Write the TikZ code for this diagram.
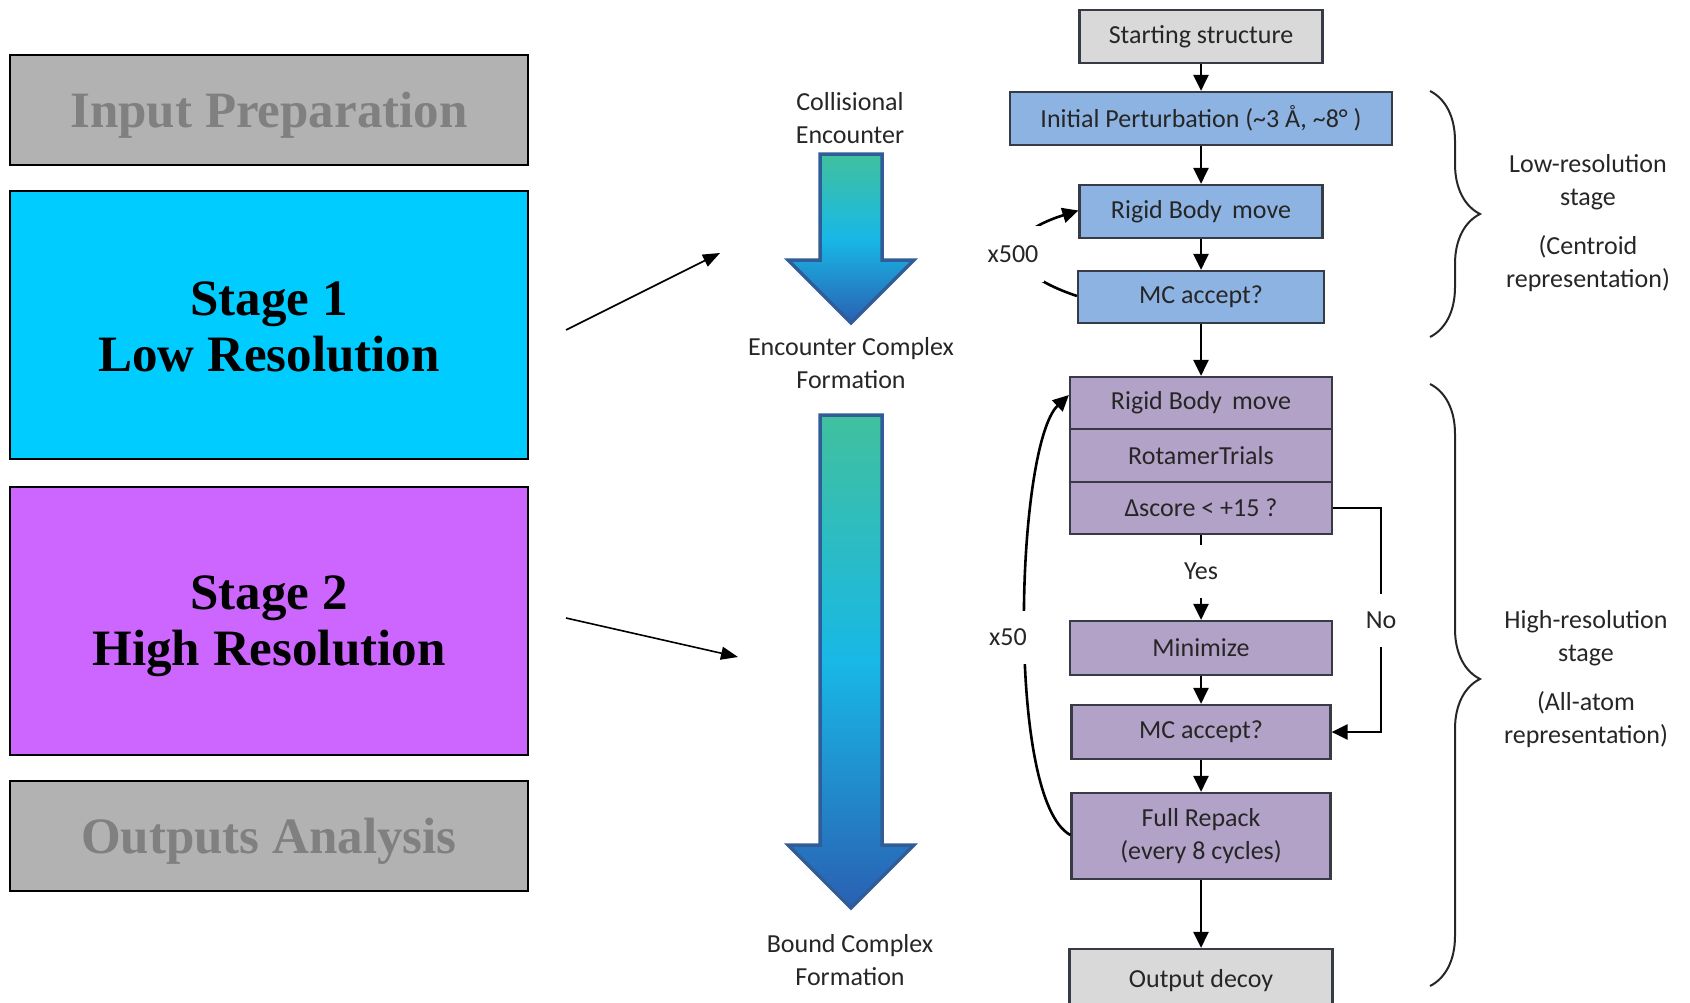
\documentclass[tikz,border=0pt]{standalone}
\usepackage{fontspec}
\setmainfont{Liberation Serif}
\newfontfamily\calfont{Carlito}
\usetikzlibrary{arrows.meta, decorations.pathreplacing, calc}

\definecolor{stageone}{HTML}{00CCFF}
\definecolor{stagetwo}{HTML}{CC66FF}
\definecolor{greybox}{HTML}{B2B2B2}
\definecolor{greytext}{HTML}{808080}
\definecolor{lightgrey}{HTML}{D9D9D9}
\definecolor{lblue}{HTML}{8DB3E2}
\definecolor{lpurple}{HTML}{B3A2C7}
\definecolor{edgec}{HTML}{363B45}
\definecolor{txtc}{HTML}{262626}
\definecolor{arrtop}{HTML}{40C09E}
\definecolor{arrmid}{HTML}{18B8E6}
\definecolor{arrbot}{HTML}{2A60B2}
\definecolor{arredge}{HTML}{305C98}

\begin{document}
\begin{tikzpicture}[x=1pt, y=-1pt,
  stagebox/.style={draw=black, line width=2pt, minimum width=518pt, inner sep=0pt,
    align=center, font=\fontsize{51}{56}\selectfont\bfseries},
  flowbox/.style={draw=edgec, line width=2.2pt, inner sep=0pt, align=center,
    text=txtc, font=\calfont\fontsize{26}{33}\selectfont},
  lbl/.style={text=txtc, font=\calfont\fontsize{26}{33}\selectfont, align=center, inner sep=0pt},
  gaplbl/.style={lbl, fill=white},
  flowarrow/.style={line width=2.6pt, -{Triangle[length=16pt, width=15pt]}},
  thinarrow/.style={line width=1.6pt, -{Triangle[length=17pt, width=13pt]}},
  bigarrow/.style={draw=arredge, line width=3.5pt, line join=miter},
  bracestyle/.style={line width=2pt, draw=txtc, decorate,
    decoration={brace, amplitude=50pt}}
]
\useasboundingbox (0,0) rectangle (1690,1002);
\clip (0,0) rectangle (1690,1002);

% ---------- left stage boxes ----------
\node[stagebox, fill=greybox, text=greytext, minimum height=110pt, text depth=0pt] (inp) at (269,110) {Input Preparation};
\node[stagebox, fill=stageone, minimum height=268pt] (st1) at (269,325) {\rule{0pt}{38pt}Stage 1\\Low Resolution};
\node[stagebox, fill=stagetwo, minimum height=268pt] (st2) at (269,621) {\rule{0pt}{44pt}Stage 2\\High Resolution};
\node[stagebox, fill=greybox, text=greytext, minimum height=110pt, text depth=0pt] (out) at (269,836) {Outputs Analysis};

\coordinate (a1s) at (566,330);
\coordinate (a1e) at (720,253);
\coordinate (a2s) at (566,618);
\coordinate (a2e) at (738,657);
\draw[thinarrow] (a1s) -- (a1e);
\draw[thinarrow] (a2s) -- (a2e);

% ---------- gradient arrows ----------
\path[bigarrow, shade, top color=arrtop, bottom color=arrbot, middle color=arrmid]
  (820,154) -- (882,154) -- (882,260) -- (914,260) -- (851,323) -- (788,260) -- (820,260) -- cycle;
\path[bigarrow, shade, top color=arrtop, bottom color=arrbot, middle color=arrmid]
  (820,415) -- (882,415) -- (882,845) -- (914,845) -- (851,908) -- (788,845) -- (820,845) -- cycle;

\node[lbl] (coll) at (850,118) {Collisional\\Encounter};
\node[lbl] (enc) at (851,363) {Encounter Complex\\Formation};
\node[lbl] (bound) at (850,960) {Bound Complex\\Formation};

% ---------- flowchart ----------
\node[flowbox, fill=lightgrey, minimum width=243pt, minimum height=53pt] (ss) at (1201,36.5) {Starting structure};
\node[flowbox, fill=lblue, minimum width=382pt, minimum height=53pt] (ip) at (1201,118.5) {Initial Perturbation (\textasciitilde3 Å, \textasciitilde8° )};
\node[flowbox, fill=lblue, minimum width=243pt, minimum height=53pt] (rb1) at (1201,211.5) {Rigid Body\, move};
\node[flowbox, fill=lblue, minimum width=246pt, minimum height=52pt] (mc1) at (1201,297) {MC accept?};

\node[flowbox, fill=lpurple, minimum width=262pt, minimum height=52pt] (rb2) at (1201,403) {Rigid Body\, move};
\node[flowbox, fill=lpurple, minimum width=262pt, minimum height=53pt] (rt) at (1201,455.5) {RotamerTrials};
\node[flowbox, fill=lpurple, minimum width=262pt, minimum height=52pt] (sc) at (1201,508) {Δscore < +15 ?};
\node[flowbox, fill=lpurple, minimum width=262pt, minimum height=54pt] (mn) at (1201,648) {Minimize};
\node[flowbox, fill=lpurple, minimum width=259pt, minimum height=54pt] (mc2) at (1201,732) {MC accept?};
\node[flowbox, fill=lpurple, minimum width=259pt, minimum height=86pt] (fr) at (1201,836) {Full Repack\\(every 8 cycles)};
\node[flowbox, fill=lightgrey, minimum width=263pt, minimum height=63pt] (od) at (1201,980.5) {Output decoy};

\draw[flowarrow] (ss) -- (ip);
\draw[flowarrow] (ip) -- (rb1);
\draw[flowarrow] (rb1) -- (mc1);
\draw[flowarrow] (mc1) -- (rb2);
\draw[flowarrow] (sc) -- node[gaplbl, pos=0.43, minimum height=53pt, minimum width=50pt] (yes) {Yes} (mn);
\draw[flowarrow] (mn) -- (mc2);
\draw[flowarrow] (mc2) -- (fr);
\draw[flowarrow] (fr) -- (od);

\coordinate (noA) at (1381,508);
\coordinate (noB) at (1381,732);
\draw[flowarrow] (sc.east) -- (noA) -- node[gaplbl, minimum height=53pt, minimum width=40pt] (no) {No} (noB) -- (mc2.east);

% loops
\draw[flowarrow] ($(mc1.west)+(0,-1)$) .. controls (1000,270) and (1000,235) .. ($(rb1.west)+(0,-1)$);
\node[gaplbl, minimum height=56pt, minimum width=62pt] (x500) at (1013,254) {x500};

\draw[flowarrow] ($(fr.west)+(0,-1)$) .. controls (1005,800) and (1016,445) .. ($(rb2.west)+(0,-8)$);
\node[gaplbl, minimum height=53pt, minimum width=50pt] (x50) at (1008,637) {x50};

% braces
\coordinate (b1t) at (1430,91);
\coordinate (b1b) at (1430,337);
\coordinate (b2t) at (1430,384);
\coordinate (b2b) at (1430,986);
\draw[bracestyle] (b1t) -- (b1b);
\draw[bracestyle, decoration={brace, amplitude=50pt, aspect=0.49}] (b2t) -- (b2b);

\node[lbl] (lr1) at (1588,182.5) {Low-resolution\\stage};
\node[lbl] (lr2) at (1588,264) {(Centroid\\representation)};
\node[lbl] (hr1) at (1586,638) {High-resolution\\stage};
\node[lbl] (hr2) at (1586,719.5) {(All-atom\\representation)};
\end{tikzpicture}
\end{document}
